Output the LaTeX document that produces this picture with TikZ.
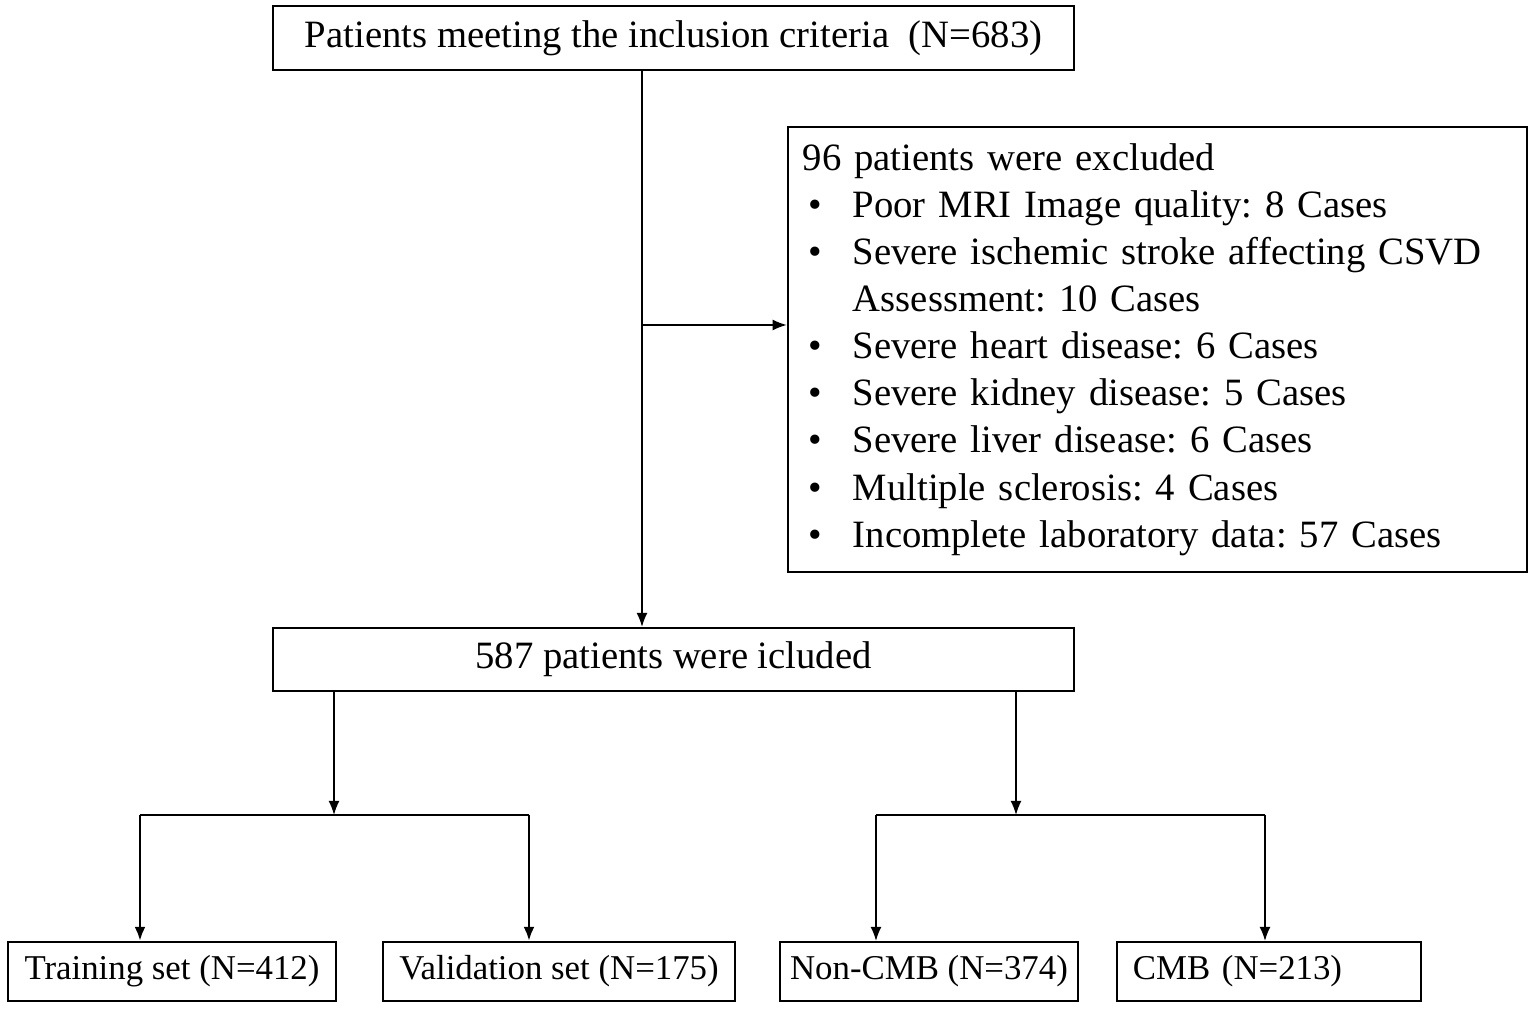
\documentclass[tikz,border=0pt]{standalone}
\usepackage{fontspec}
\setmainfont{Liberation Serif}
\usetikzlibrary{arrows.meta}
\frenchspacing
\newcommand{\exitem}[1]{\makebox[0.5cm][l]{\hspace*{0.06cm}\textbullet}#1}

\begin{document}
\begin{tikzpicture}[x=0.01cm, y=-0.01cm,
    font={\fontsize{11}{13.4}\selectfont},
    box/.style={draw, line width=0.6pt, inner sep=0pt},
    small/.style={font={\fontsize{9.9}{12}\selectfont}},
    link/.style={-{Latex[length=0.14cm, width=0.11cm]}, line width=0.45pt},
    boldlink/.style={-{Latex[length=0.14cm, width=0.11cm]}, line width=0.8pt}]
    \useasboundingbox (0,0) rectangle (1535,1010);
    \node[box, minimum width=8.01cm, minimum height=0.64cm] (top) at (673.5,38)
        {Patients meeting the inclusion criteria\enspace(N=683)};
    \node[box, minimum height=4.45cm, text width=7.09cm, inner xsep=0.15cm, align=left] (excl) at (1157.5,349.5)
        {96 patients were excluded\\
         \exitem{Poor MRI Image quality: 8 Cases}\\
         \exitem{Severe ischemic stroke affecting CSVD}\\
         \hspace*{0.5cm}Assessment: 10 Cases\\
         \exitem{Severe heart disease: 6 Cases}\\
         \exitem{Severe kidney disease: 5 Cases}\\
         \exitem{Severe liver disease: 6 Cases}\\
         \exitem{Multiple sclerosis: 4 Cases}\\
         \exitem{Incomplete laboratory data: 57 Cases}};
    \node[box, minimum width=8.01cm, minimum height=0.63cm] (incl) at (673.5,659.5)
        {587 patients were icluded};
    % bottom row
    \node[box, small, minimum width=3.28cm, minimum height=0.59cm] (train) at (172,971.5) {Training set (N=412)};
    \node[box, small, minimum width=3.52cm, minimum height=0.59cm] (valid) at (559,971.5) {Validation set (N=175)};
    \node[box, small, minimum width=2.98cm, minimum height=0.59cm] (noncmb) at (929,971.5) {Non-CMB (N=374)};
    \node[box, small, minimum height=0.59cm, text width=2.72cm, inner xsep=0.16cm, align=left] (cmb) at (1269,971.5) {CMB (N=213)};
    % main line and exclusion
    \coordinate (spine) at (642,325);
    \draw[link] (top.south -| spine) -- (incl.north -| spine);
    \draw[link] (spine) -- (spine -| excl.west);
    % training / validation split
    \coordinate (lsplit) at (334,815);
    \coordinate (ltrain) at (140,815);
    \coordinate (lvalid) at (529,815);
    \draw[link] (incl.south -| lsplit) -- (lsplit);
    \draw[line width=0.7pt] (ltrain) -- (lvalid);
    \draw[boldlink] (ltrain) -- (ltrain |- train.north);
    \draw[boldlink] (lvalid) -- (lvalid |- valid.north);
    % CMB split
    \coordinate (rsplit) at (1016,815);
    \coordinate (rnon) at (876,815);
    \coordinate (rcmb) at (1265,815);
    \draw[link] (incl.south -| rsplit) -- (rsplit);
    \draw[line width=0.55pt] (rnon) -- (rcmb);
    \draw[link] (rnon) -- (rnon |- noncmb.north);
    \draw[link] (rcmb) -- (rcmb |- cmb.north);
\end{tikzpicture}
\end{document}
